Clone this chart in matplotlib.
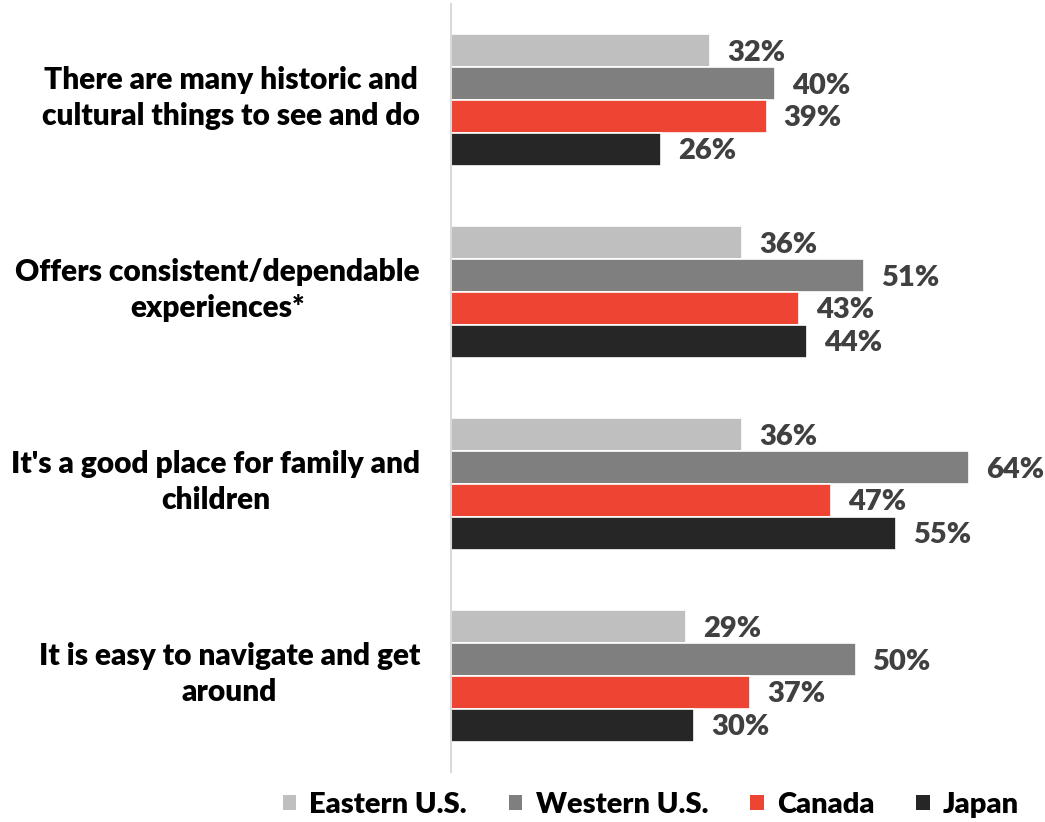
import matplotlib
matplotlib.use("Agg")
import matplotlib.pyplot as plt
from matplotlib.patches import Patch

categories = [
    "There are many historic and\ncultural things to see and do",
    "Offers consistent/dependable\nexperiences*",
    "It's a good place for family and\nchildren",
    "It is easy to navigate and get\naround",
]
series_names = ["Eastern U.S.", "Western U.S.", "Canada", "Japan"]
eastern_us = [32, 36, 36, 29]
western_us = [40, 51, 64, 50]
canada = [39, 43, 47, 37]
japan = [26, 44, 55, 30]
colors = ["#BFBFBF", "#7F7F7F", "#EE4433", "#262626"]

plt.rcParams["font.family"] = ["Lato", "DejaVu Sans"]
plt.rcParams["font.weight"] = "heavy"

fig = plt.figure(figsize=(10.45, 8.22), dpi=100)
ax = fig.add_axes([451 / 1045, 50 / 822, 1 - 451 / 1045, 768 / 822])

bar_h = 0.171
all_series = [eastern_us, western_us, canada, japan]
for j, (vals, col) in enumerate(zip(all_series, colors)):
    ys = [i + (j - 1.5) * bar_h for i in range(len(categories))]
    ax.barh(ys, vals, height=bar_h, color=col, edgecolor="white", linewidth=1.2)
    for y, v in zip(ys, vals):
        ax.text(v + 2.1, y + 0.01, f"{v}%", va="center", ha="left",
                fontsize=21, fontweight="heavy", color="#404040")

ax.set_xlim(0, 73.4)
ax.set_ylim(3.5, -0.5)
ax.set_xticks([])
ax.set_yticks([])
for s in ["top", "right", "bottom"]:
    ax.spines[s].set_visible(False)
ax.spines["left"].set_color("#D9D9D9")
ax.spines["left"].set_linewidth(1.5)

for i, cat in enumerate(categories):
    ax.annotate(cat, xy=(0, i), xycoords=("axes fraction", "data"),
                xytext=(-31, 2), textcoords="offset pixels",
                ha="right", va="center", multialignment="center",
                fontsize=21.5, fontweight="heavy", color="black",
                linespacing=1.38)

handles = [Patch(facecolor=c, edgecolor="none") for c in colors]
fig.legend(handles, series_names, loc="center", bbox_to_anchor=(651 / 1045, 1 - 805 / 822),
           ncol=4, frameon=False, prop={"size": 21, "weight": "heavy"},
           handlelength=0.45, handleheight=0.45, handletextpad=0.45, columnspacing=1.45)

fig.savefig("out.png", dpi=100)
